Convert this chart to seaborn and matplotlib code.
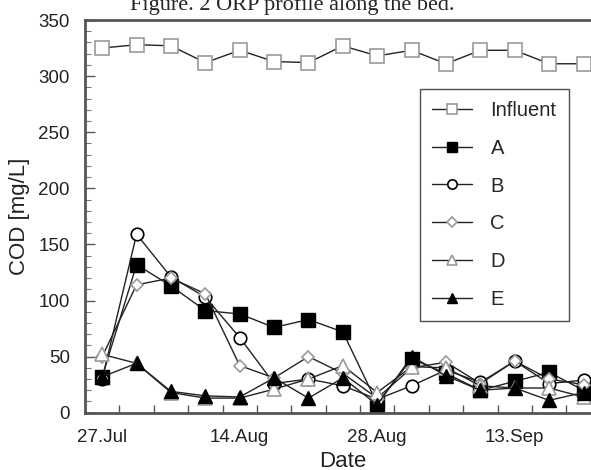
import matplotlib
matplotlib.use("Agg")
import matplotlib.pyplot as plt
import seaborn as sns
import numpy as np
import pandas as pd

# ---- data ----
tick_labels = ["27.Jul", "14.Aug", "28.Aug", "13.Sep"]
tick_positions = [0, 4, 8, 12]
influent = [325, 328, 327, 312, 323, 313, 312, 327, 318, 323, 311, 323, 323, 311, 311]
series_a = [32, 132, 113, 91, 88, 76, 83, 72, 8, 48, 35, 20, 28, 36, 20]
series_b = [30, 159, 121, 103, 67, 26, 30, 24, 12, 24, 38, 27, 46, 26, 29]
series_c = [50, 114, 120, 106, 42, 31, 50, 35, 13, 40, 45, 26, 46, 30, 25]
series_d = [52, 44, 18, 13, 13, 21, 30, 42, 18, 41, 40, 24, 22, 22, 14]
series_e = [32, 44, 19, 15, 14, 31, 13, 31, 7, 50, 33, 20, 22, 11, 18]
names = ["Influent", "A", "B", "C", "D", "E"]

sns.set_theme(style="white")
plt.rcParams["font.family"] = ["Liberation Sans", "DejaVu Sans"]

W, H = 591, 470
fig = plt.figure(figsize=(W / 100, H / 100), dpi=100)
x0, x1 = 85, 600.7
y_top, y_bot = 20, 412.7
ax = fig.add_axes([x0 / W, 1 - y_bot / H, (x1 - x0) / W, (y_bot - y_top) / H])

idx = np.arange(len(influent))
gray = "#9a9a9a"
styles = {
    "Influent": dict(marker="s", ms=9.5, mfc="white", mec=gray, mew=1.2),
    "A": dict(marker="s", ms=9.5, mfc="black", mec="black", mew=1.0),
    "B": dict(marker="o", ms=9, mfc="white", mec="black", mew=1.2),
    "C": dict(marker="D", ms=6.5, mfc="white", mec=gray, mew=1.2),
    "D": dict(marker="^", ms=9.5, mfc="white", mec=gray, mew=1.2),
    "E": dict(marker="^", ms=9.5, mfc="black", mec="black", mew=1.0),
}
values = [influent, series_a, series_b, series_c, series_d, series_e]
for name, vals in zip(names, values):
    df = pd.DataFrame({"x": idx, "y": vals})
    sns.lineplot(data=df, x="x", y="y", ax=ax, color="#222222", lw=1.0,
                 label=name, **styles[name])

ax.set_xlim(-0.5, 14.5)
ax.set_ylim(0, 350)
ax.set_xticks(tick_positions)
ax.set_xticklabels(tick_labels)
ax.set_xticks(np.arange(0.5, 14.5, 1.0), minor=True)
ax.set_yticks(np.arange(0, 351, 50))
ax.set_yticks(np.arange(0, 351, 10), minor=True)
ax.tick_params(axis="x", which="major", length=0, pad=12, labelsize=13.5, colors="#222222")
ax.tick_params(axis="x", which="minor", length=6, width=1, direction="in", color="#555555", bottom=True)
ax.tick_params(axis="y", which="major", length=7, width=1, direction="in", pad=11, labelsize=13.5, colors="#222222", left=True)
ax.tick_params(axis="y", which="minor", length=4, width=0.8, direction="in", color="#777777", left=True)
ax.tick_params(axis="y", which="major", color="#555555")
for sp in ["left", "bottom", "top"]:
    ax.spines[sp].set_color("#555555")
    ax.spines[sp].set_linewidth(2)
ax.spines["right"].set_visible(False)
ax.set_xlabel("Date", fontsize=16, labelpad=3, color="#222222")
ax.set_ylabel("COD [mg/L]", fontsize=16, labelpad=6, color="#222222")

handles, labels = ax.get_legend_handles_labels()
leg = ax.legend(handles, labels, loc="upper left",
                bbox_to_anchor=(420 / W, 1 - 89 / H), bbox_transform=fig.transFigure,
                borderaxespad=0, frameon=True, fancybox=False, fontsize=14.5,
                markerscale=0.75, handlelength=2.0, handletextpad=0.9,
                labelspacing=0.93, borderpad=0.6)
leg.get_frame().set_edgecolor("#222222")
leg.get_frame().set_linewidth(1.0)

fig.text(292 / W, 1 - 10 / H, "Figure. 2 ORP profile along the bed.",
         family=["Liberation Serif", "DejaVu Serif"], fontsize=16, ha="center", va="baseline")

fig.savefig("out.png", dpi=100)
